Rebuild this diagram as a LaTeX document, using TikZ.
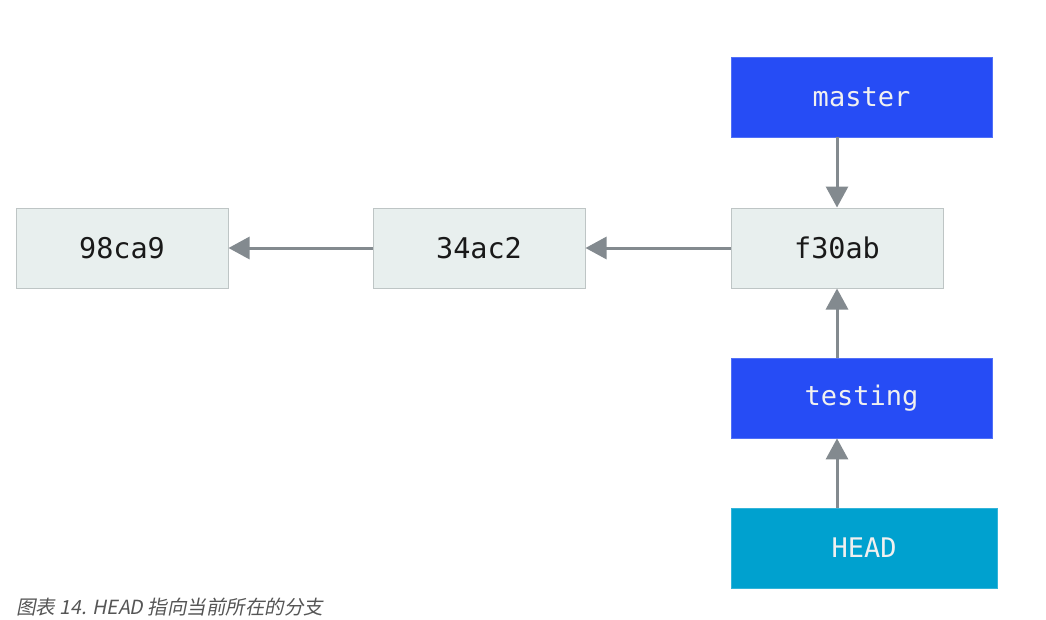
\documentclass[tikz,border=0pt]{standalone}
\usepackage{fontspec}
\setmonofont{DejaVu Sans Mono}
\newfontfamily\cjk{Noto Sans CJK SC}[FakeSlant=0.2]
\usepackage{tikz}
\usetikzlibrary{arrows.meta,positioning}
\definecolor{commitfill}{RGB}{232,239,238}
\definecolor{commitdraw}{RGB}{190,197,197}
\definecolor{branchblue}{RGB}{38,76,245}
\definecolor{headcyan}{RGB}{0,161,207}
\definecolor{arrowgrey}{RGB}{131,138,143}
\definecolor{captiongrey}{RGB}{85,85,85}

\begin{document}
\begin{tikzpicture}[x=1pt, y=-1pt,
    commit/.style={rectangle, draw=commitdraw, fill=commitfill, line width=1pt,
                   minimum width=212pt, minimum height=80pt, inner sep=0pt,
                   font=\ttfamily\fontsize{28.5}{34}\selectfont, text=black!90},
    branch/.style={rectangle, fill=branchblue, draw=branchblue!80!white, line width=0.8pt,
                   minimum width=261pt, minimum height=80pt, inner sep=0pt,
                   font=\ttfamily\fontsize{27}{32}\selectfont, text=white!94!black},
    headref/.style={branch, fill=headcyan, draw=headcyan!80!white, minimum width=266pt},
    link/.style={-{Triangle[width=22pt,length=21pt]}, draw=arrowgrey, line width=3pt},
]
    \useasboundingbox (0,0) rectangle (1046,619);

    % Commits
    \node[commit] (c1) at (122,248) {98ca9};
    \node[commit] (c2) at (479,248) {34ac2};
    \node[commit] (c3) at (837,248) {f30ab};

    % Branches and HEAD
    \node[branch] (master) at (861.5,97) {master};
    \node[branch] (testing) at (861.5,398) {testing};
    \node[headref] (head) at (864,548) {HEAD};

    % Arrows
    \draw[link] (c2.west) -- (c1.east);
    \draw[link] (c3.west) -- (c2.east);
    \draw[link] (master.south -| c3.north) -- (c3.north);
    \draw[link] (testing.north -| c3.south) -- (c3.south);
    \draw[link] (head.north -| c3.south) -- (testing.south -| c3.south);

    % Caption
    \node[anchor=base west, inner sep=0pt, text=captiongrey,
          font=\cjk\fontsize{19.5}{23}\selectfont] (caption) at (16,614)
          {图表 14. HEAD 指向当前所在的分支};
\end{tikzpicture}
\end{document}
